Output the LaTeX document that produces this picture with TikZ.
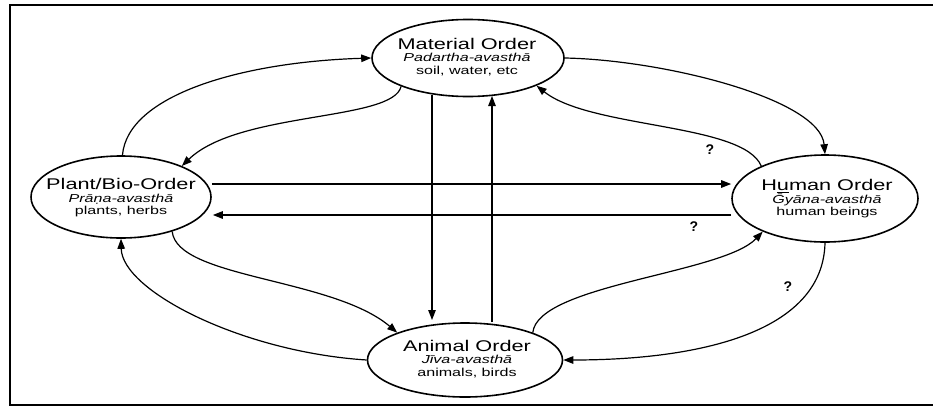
\documentclass[tikz,border=0pt]{standalone}
\usepackage{fontspec}
\setmainfont{Liberation Sans}[FakeStretch=1.4]
\newfontfamily\qfont{Liberation Sans}
\usetikzlibrary{arrows.meta,shapes.geometric,calc}
\begin{document}
\begin{tikzpicture}[x=1pt,y=-1pt,
  ord/.style={ellipse, draw, line width=1.6pt, inner sep=0pt},
  con/.style={line width=1.2pt, -{Triangle[length=10pt,width=7.5pt]}},
  txt/.style={align=center, inner sep=0pt, font=\fontsize{11.5}{12.5}\selectfont},
  qm/.style={font=\qfont\bfseries\fontsize{14}{14}\selectfont, inner sep=0pt}]
\useasboundingbox (0,0) rectangle (933,407);
\draw[line width=1.8pt] (940,5) -- (10,5) -- (10,405) -- (940,405);
% orders
\node[ord, minimum width=192pt, minimum height=77pt] (mat) at (468,58) {};
\node[ord, minimum width=180pt, minimum height=82pt] (pl) at (121,197) {};
\node[ord, minimum width=186pt, minimum height=87pt] (hu) at (825,198.5) {};
\node[ord, minimum width=195pt, minimum height=74pt] (an) at (465,360) {};
\node[txt] (matT) at (467,57) {{\fontsize{15.5}{15.5}\selectfont Material Order}\\{\itshape Padartha-avasthā}\\soil, water, etc};
\node[txt] (plT) at (121,198) {{\fontsize{15.5}{15.5}\selectfont Plant/Bio-Order}\\{\itshape Prāṇa-avasthā}\\plants, herbs};
\node[txt] (huT) at (827,199) {{\fontsize{15.5}{15.5}\selectfont H\underline{u}man Order}\\{\itshape Ḡyāna-avasthā}\\human beings};
\node[txt] (anT) at (467,359) {{\fontsize{15.5}{15.5}\selectfont Animal Order}\\{\itshape Jīva-avasthā}\\animals, birds};
% connectors
\draw[con] (pl.88) .. controls +(5,-60) and +(-130,4) .. (mat.180);
\draw[con] (mat.203) .. controls +(-8,35) and +(57,-55) .. (pl.27);
\draw[con] (mat.0) .. controls +(100,2) and +(-5,-55) .. (hu.90);
\draw[con] (hu.153) .. controls +(-18,-43) and +(54,43) .. (mat.338);
\draw[con] ($(pl.east)+(0,-13)$) -- ($(hu.west)+(0,-14.5)$);
\draw[con] ($(hu.west)+(0,16.5)$) -- ($(pl.east)+(1,18)$);
\draw[con] ($(mat.center)+(-36,37)$) -- ($(an.center)+(-33,-40)$);
\draw[con] ($(an.center)+(27,-38)$) -- ($(mat.center)+(24,38)$);
\draw[con] (pl.326) .. controls +(5,47) and +(-65,-55) .. (an.158);
\draw[con] (an.180) .. controls +(-125,-8) and +(1,52) .. (pl.270);
\draw[con] (an.22) .. controls +(5,-48) and +(-40,42) .. (hu.208);
\draw[con] (hu.270) .. controls +(-2,90) and +(135,0) .. (an.0);
% question marks
\node[qm] (q1) at (710,150) {?};
\node[qm] (q2) at (694,227) {?};
\node[qm] (q3) at (788,287) {?};
\end{tikzpicture}
\end{document}
